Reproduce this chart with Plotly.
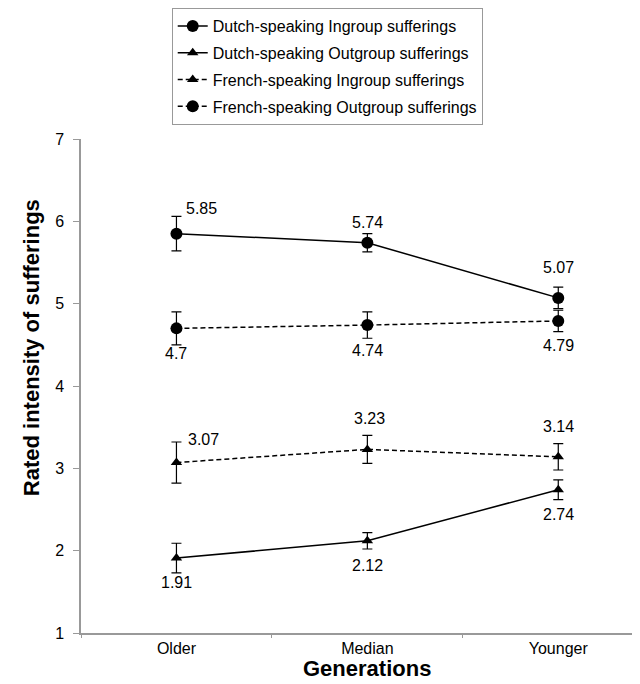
import plotly.graph_objects as go

generations = ["Older", "Median", "Younger"]

dutch_in = [5.85, 5.74, 5.07]
dutch_in_err = [0.21, 0.11, 0.13]
dutch_out = [1.91, 2.12, 2.74]
dutch_out_err = [0.18, 0.10, 0.12]
french_in = [3.07, 3.23, 3.14]
french_in_err = [0.25, 0.17, 0.16]
french_out = [4.70, 4.74, 4.79]
french_out_err = [0.20, 0.16, 0.13]

series_names = [
    "Dutch-speaking Ingroup sufferings",
    "Dutch-speaking Outgroup sufferings",
    "French-speaking Ingroup sufferings",
    "French-speaking Outgroup sufferings",
]

yticks = [1, 2, 3, 4, 5, 6, 7]

FONT = "Liberation Sans, Arial, Helvetica, sans-serif"

fig = go.Figure()

specs = [
    (series_names[0], dutch_in, dutch_in_err, "circle", 12, "solid"),
    (series_names[1], dutch_out, dutch_out_err, "triangle-up", 10, "solid"),
    (series_names[2], french_in, french_in_err, "triangle-up", 10, "5px,3px"),
    (series_names[3], french_out, french_out_err, "circle", 12, "5px,3px"),
]

for i, (name, vals, errs, sym, size, dash) in enumerate(specs):
    fig.add_trace(go.Scatter(
        x=generations, y=vals, name=name, mode="lines+markers",
        legendgroup=f"g{i}",
        line=dict(color="black", width=1.5, dash=dash),
        marker=dict(symbol=sym, size=size, color="black"),
        error_y=dict(type="data", array=errs, visible=True,
                     color="black", thickness=1.2, width=5),
    ))

# data labels: (values, x pixel shifts, y pixel shifts)
label_offsets = [
    (dutch_in, [25, 0, 0], [25, 20, 30]),
    (french_out, [0, 0, 0], [-25, -25, -25]),
    (french_in, [27, 2, 0], [23, 31, 30]),
    (dutch_out, [0, 0, 0], [-24, -25, -25]),
]
for vals, xs, ys in label_offsets:
    for g, v, dx, dy in zip(generations, vals, xs, ys):
        fig.add_annotation(
            x=g, y=v, text=f"{v:g}", showarrow=False,
            xshift=dx, yshift=dy,
            font=dict(family=FONT, size=16, color="black"),
        )

# axis titles
fig.add_annotation(
    xref="paper", yref="paper", x=-0.086, y=0.577,
    text="<b>Rated intensity of sufferings</b>", textangle=-90,
    showarrow=False, xanchor="center", yanchor="middle",
    font=dict(family=FONT, size=22, color="black"),
)
fig.add_annotation(
    xref="x", yref="paper", x="Median", y=-0.071,
    text="<b>Generations</b>",
    showarrow=False, xanchor="center", yanchor="middle",
    font=dict(family=FONT, size=22, color="black"),
)

fig.update_layout(
    width=640, height=684,
    margin=dict(l=73, r=0, t=126, b=59),
    paper_bgcolor="white", plot_bgcolor="white",
    font=dict(family=FONT, color="black"),
    showlegend=True,
    legend=dict(
        x=0.16, y=1.266, xanchor="left", yanchor="top",
        bordercolor="#999999", borderwidth=1,
        font=dict(family=FONT, size=16, color="black"),
        bgcolor="white",
        itemwidth=30,
        traceorder="grouped", tracegroupgap=3,
    ),
    xaxis=dict(
        range=[-0.5, 2.47], showgrid=False, zeroline=False,
        showline=True, linecolor="#999999", linewidth=1.5,
        ticks="outside", tickson="boundaries", ticklen=3, tickcolor="#999999",
        tickfont=dict(family=FONT, size=16, color="black"),
    ),
    yaxis=dict(
        range=[1, 7], tickvals=yticks, showgrid=False, zeroline=False,
        showline=True, linecolor="#999999", linewidth=1.5,
        ticks="outside", ticklen=6, tickcolor="#999999",
        ticklabelstandoff=6,
        tickfont=dict(family=FONT, size=16, color="black"),
    ),
)

fig.write_html("out.html")
